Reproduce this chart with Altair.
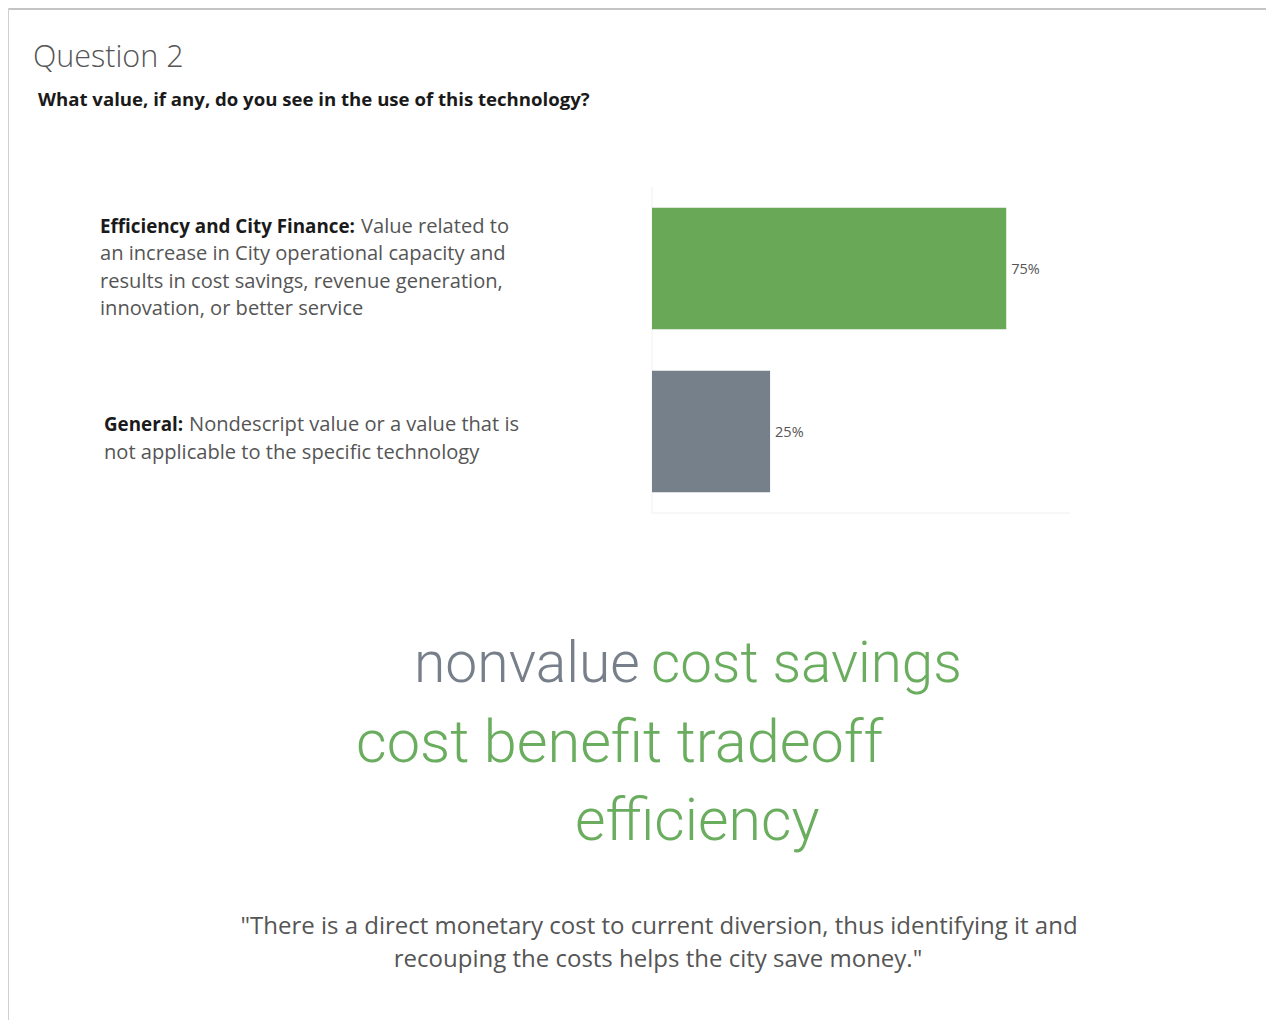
import altair as alt
import pandas as pd

# ---------------- data ----------------
categories = ["Efficiency and City Finance", "General"]
shares = [0.75, 0.25]
bar_colors = ["#68a857", "#76808b"]

title_text = "Question 2"
subtitle_text = "What value, if any, do you see in the use of this technology?"

def_bold = ["Efficiency and City Finance:", "General:"]
def_lines = [
    ["Value related to",
     "an increase in City operational capacity and",
     "results in cost savings, revenue generation,",
     "innovation, or better service"],
    ["Nondescript value or a value that is",
     "not applicable to the specific technology"],
]

cloud_words = ["nonvalue", "cost savings", "cost benefit tradeoff", "efficiency"]
cloud_category = ["General", "Efficiency and City Finance",
                  "Efficiency and City Finance", "Efficiency and City Finance"]

quote_lines = ['"There is a direct monetary cost to current diversion, thus identifying it and',
               'recouping the costs helps the city save money."']

# ---------------- layout (page px minus 8px margin) ----------------
OFF = 8
def P(v):
    return v - OFF

FONT = "Open Sans"
CLOUD_FONT = "Roboto"
W, H = 1258, 1012

layers = []

def text_layer(df, size, color, weight="normal", align="left", baseline="alphabetic", font=FONT):
    return alt.Chart(df).mark_text(
        font=font, fontSize=size, color=color, fontWeight=weight,
        align=align, baseline=baseline,
    ).encode(
        x=alt.X("px:Q", scale=None, axis=None),
        y=alt.Y("py:Q", scale=None, axis=None),
        text="t:N",
    )

# borders
layers.append(alt.Chart(pd.DataFrame({"a": [0]})).mark_rule(color="#c4c4c4", strokeWidth=2).encode(
    x=alt.value(0), x2=alt.value(W), y=alt.value(1)))
layers.append(alt.Chart(pd.DataFrame({"a": [0]})).mark_rule(color="#d0d0d0", strokeWidth=1).encode(
    x=alt.value(0.5), y=alt.value(0), y2=alt.value(H)))

# title / subtitle
layers.append(text_layer(pd.DataFrame({"t": [title_text], "px": [P(33)], "py": [P(67)]}),
                         30.5, "#555555", weight=300))
layers.append(text_layer(pd.DataFrame({"t": [subtitle_text], "px": [P(38)], "py": [P(106)]}),
                         18.6, "#1a1a1a", weight="bold"))

# definitions
bold_rows = pd.DataFrame({"t": def_bold, "px": [P(100), P(104)], "py": [P(232.5), P(431)]})
layers.append(text_layer(bold_rows, 18.8, "#1a1a1a", weight="bold"))
reg_t, reg_x, reg_y = [], [], []
starts = [(P(361), P(100), P(232.5)), (P(189), P(104), P(431))]
for lines, (fx, lx, y0) in zip(def_lines, starts):
    for i, line in enumerate(lines):
        reg_t.append(line)
        reg_x.append(fx if i == 0 else lx)
        reg_y.append(y0 + i * 27.5)
layers.append(text_layer(pd.DataFrame({"t": reg_t, "px": reg_x, "py": reg_y}), 20.1, "#555555"))

# bar chart
bars_df = pd.DataFrame({"category": categories, "share": shares})
xs = alt.Scale(domain=[0, 0.885], range=[P(652), P(1070)], nice=False, zero=True)
ys = alt.Scale(domain=categories, range=[P(187), P(513)], paddingInner=0.255, paddingOuter=0.1275)
cs = alt.Scale(domain=categories, range=bar_colors)

# pane lines
layers.append(alt.Chart(pd.DataFrame({"a": [0]})).mark_rule(color="#f0f0f0").encode(
    x=alt.value(P(652)), y=alt.value(P(187)), y2=alt.value(P(513))))
layers.append(alt.Chart(pd.DataFrame({"a": [0]})).mark_rule(color="#f0f0f0").encode(
    x=alt.value(P(652)), x2=alt.value(P(1070)), y=alt.value(P(513))))

base = alt.Chart(bars_df)
layers.append(base.mark_bar().encode(
    x=alt.X("share:Q", scale=xs, axis=None),
    y=alt.Y("category:N", scale=ys, axis=None),
    color=alt.Color("category:N", scale=cs, legend=None),
))
layers.append(base.mark_text(font=FONT, fontSize=14.5, color="#555555", align="left",
                             baseline="middle", dx=5, dy=1).encode(
    x=alt.X("share:Q", scale=xs, axis=None),
    y=alt.Y("category:N", scale=ys, axis=None),
    text=alt.Text("share:Q", format=".0%"),
))

# word cloud
cloud_x = [P(414), P(651), P(356), P(575)]
cloud_y = [P(682), P(682), P(762), P(840)]
cloud_fs = [57, 56.5, 59.5, 59]
cloud_df = pd.DataFrame({"t": cloud_words, "cat": cloud_category,
                         "px": cloud_x, "py": cloud_y, "fs": cloud_fs})
layers.append(alt.Chart(cloud_df).mark_text(font=CLOUD_FONT, fontWeight=300, align="left",
                                            baseline="alphabetic").encode(
    x=alt.X("px:Q", scale=None, axis=None),
    y=alt.Y("py:Q", scale=None, axis=None),
    text="t:N",
    size=alt.Size("fs:Q", scale=None, legend=None),
    color=alt.Color("cat:N", scale=alt.Scale(domain=categories, range=["#6aad5e", "#777f8b"]),
                    legend=None),
))

# quote
layers.append(text_layer(pd.DataFrame({"t": quote_lines, "px": [P(659), P(658)],
                                       "py": [P(934), P(967)]}),
                         24, "#555555", align="center"))

chart = alt.layer(*layers).resolve_scale(
    x="independent", y="independent", color="independent", size="independent"
).properties(
    width=W, height=H, padding=0, autosize=alt.AutoSizeParams(type="none"),
    background="white",
).configure_view(stroke=None)

chart.save("out.html", embed_options={"renderer": "svg", "actions": False})
